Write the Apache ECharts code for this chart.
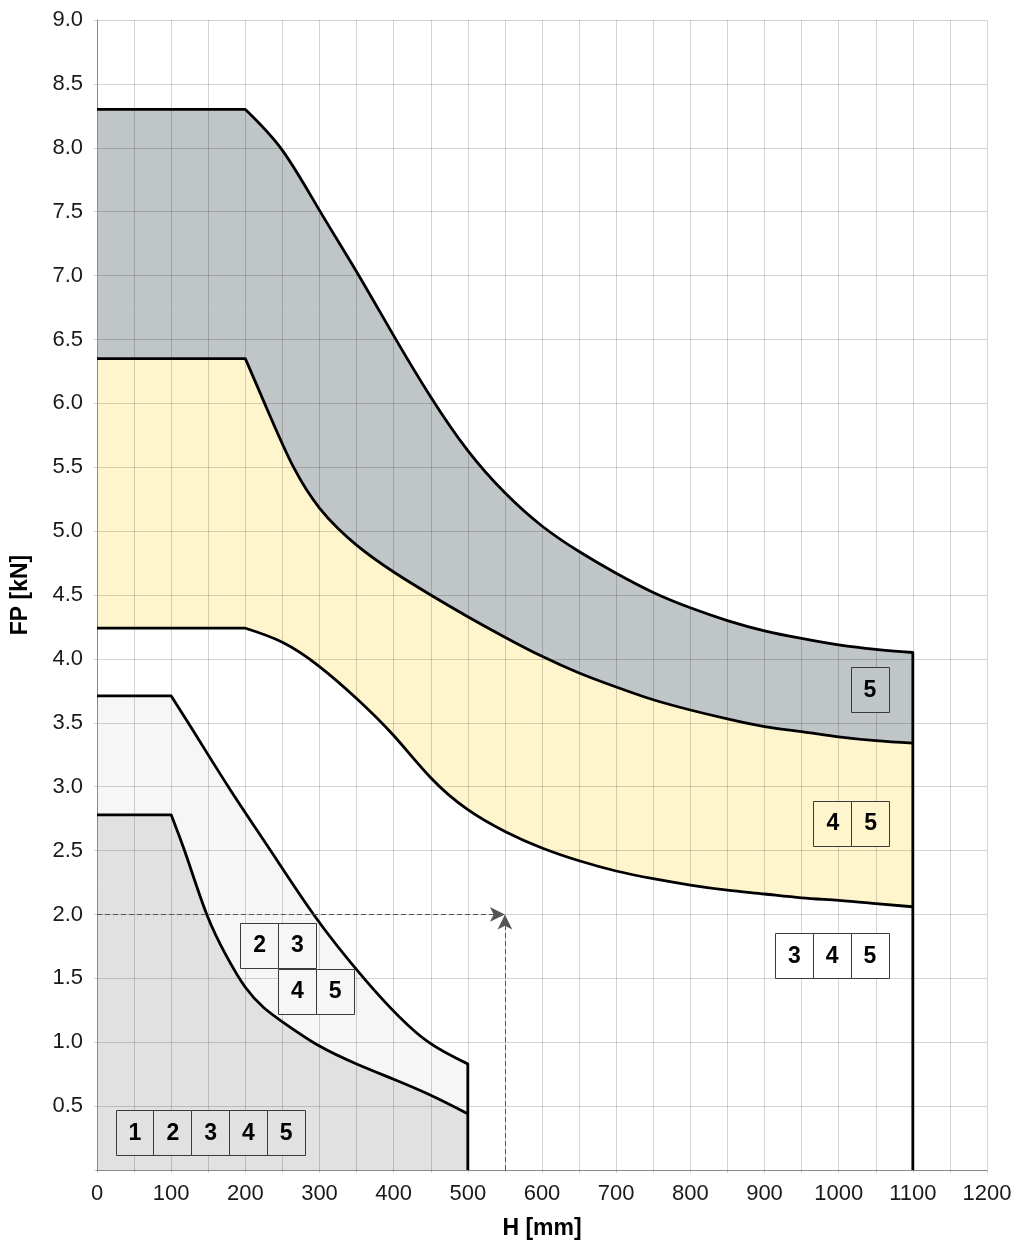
<!DOCTYPE html>
<html>
<head>
<meta charset="utf-8">
<script src="https://cdn.jsdelivr.net/npm/echarts@6/dist/echarts.min.js"></script>
<style>
html,body{margin:0;padding:0;background:#ffffff;}
#chart{width:1025px;height:1243px;}
</style>
</head>
<body>
<div id="chart"></div>
<script>
// ---------- data ----------
const xTickLabels = [0,100,200,300,400,500,600,700,800,900,1000,1100,1200];
const yTickLabels = [0.5,1.0,1.5,2.0,2.5,3.0,3.5,4.0,4.5,5.0,5.5,6.0,6.5,7.0,7.5,8.0,8.5,9.0];

// upper edge of grey band
const curveGreyTop = [[0,8.3],[200,8.3],[250,7.98],[300,7.51],[350,7.03],[400,6.53],[450,6.05],[500,5.63],[550,5.3],[600,5.04],[650,4.84],[700,4.67],[750,4.52],[800,4.4],[850,4.3],[900,4.22],[950,4.16],[1000,4.11],[1050,4.075],[1100,4.05]];
// boundary grey / yellow
const curveYellowTop = [[0,6.35],[200,6.35],[226,6.0],[265,5.5],[300,5.18],[325,5.02],[350,4.89],[400,4.68],[450,4.5],[500,4.33],[550,4.17],[600,4.02],[650,3.89],[700,3.78],[750,3.68],[800,3.6],[850,3.53],[900,3.47],[950,3.43],[1000,3.39],[1050,3.36],[1100,3.34]];
// lower edge of yellow band
const curveYellowBottom = [[0,4.24],[200,4.24],[250,4.13],[300,3.94],[350,3.69],[400,3.4],[450,3.07],[500,2.82],[550,2.65],[600,2.52],[650,2.42],[700,2.34],[750,2.28],[800,2.23],[850,2.19],[900,2.16],[950,2.13],[1000,2.11],[1050,2.085],[1100,2.06]];
// upper edge of light band (0-500)
const curveLightTop = [[0,3.71],[100,3.71],[124,3.49],[177,3.0],[234,2.5],[292,2.0],[360,1.5],[447,1.0],[500,0.83]];
// upper edge of darker lower band (0-500)
const curveDarkTop = [[0,2.78],[100,2.78],[118,2.5],[148,2.0],[175,1.67],[200,1.43],[250,1.16],[300,0.97],[350,0.83],[400,0.71],[450,0.585],[500,0.44]];

// reading example (dashed guide)
const guideH = 550;
const guideFP = 2.0;

// labelled boxes: cell texts per group
const boxTexts = [
  ['1','2','3','4','5'],
  ['2','3'],
  ['4','5'],
  ['5'],
  ['4','5'],
  ['3','4','5']
];
// ---------- layout / styling (not data) ----------
const boxLayout = [
  {left: 25,   y: 0.29,  fill: '#e1e1e1'},
  {left: 193,  y: 1.76,  fill: '#f6f6f6'},
  {left: 244,  y: 1.40,  fill: '#f6f6f6'},
  {left: 1016, y: 3.76,  fill: '#c0c5c8'},
  {left: 966,  y: 2.715, fill: '#fff5cc'},
  {left: 914,  y: 1.676, fill: '#ffffff'}
];
const cellW = 51, cellH = 0.352;

const bands = [
  {curve: curveGreyTop,      fill: '#c0c5c8', dropEnd: true},
  {curve: curveYellowTop,    fill: '#fff5cc', dropEnd: false},
  {curve: curveYellowBottom, fill: '#ffffff', dropEnd: false},
  {curve: curveLightTop,     fill: '#f6f6f6', dropEnd: true},
  {curve: curveDarkTop,      fill: '#e1e1e1', dropEnd: false}
];

const boxData = [];
boxTexts.forEach((cells, g) => {
  cells.forEach((t, i) => {
    boxData.push([boxLayout[g].left + i * cellW, boxLayout[g].y, t, g]);
  });
});

const FONT = "'Liberation Sans', Arial, Helvetica, sans-serif";
const chart = echarts.init(document.getElementById('chart'), null, {renderer: 'canvas'});

// natural cubic spline (C2) through the read points, as Bezier segments
function splineSegments(pts) {
  const n = pts.length;
  if (n < 3) return pts.slice(1).map(p => ({c1: null, c2: null, p: p}));
  const x = pts.map(p => p[0]), y = pts.map(p => p[1]);
  const h = [];
  for (let i = 0; i < n - 1; i++) h.push(x[i+1] - x[i]);
  const M = new Array(n).fill(0);
  const m = n - 2;
  const a = [], b = [], c = [], r = [];
  for (let i = 1; i <= m; i++) {
    a.push(h[i-1]); b.push(2 * (h[i-1] + h[i])); c.push(h[i]);
    r.push(6 * ((y[i+1] - y[i]) / h[i] - (y[i] - y[i-1]) / h[i-1]));
  }
  for (let i = 1; i < m; i++) {
    const w = a[i] / b[i-1];
    b[i] -= w * c[i-1];
    r[i] -= w * r[i-1];
  }
  const sol = new Array(m);
  sol[m-1] = r[m-1] / b[m-1];
  for (let i = m - 2; i >= 0; i--) sol[i] = (r[i] - c[i] * sol[i+1]) / b[i];
  for (let i = 1; i <= m; i++) M[i] = sol[i-1];
  const segs = [];
  for (let i = 0; i < n - 1; i++) {
    const s = (y[i+1] - y[i]) / h[i];
    const mL = s - h[i] * (2 * M[i] + M[i+1]) / 6;
    const mR = s + h[i] * (M[i] + 2 * M[i+1]) / 6;
    segs.push({c1: [x[i] + h[i] / 3, y[i] + mL * h[i] / 3], c2: [x[i+1] - h[i] / 3, y[i+1] - mR * h[i] / 3], p: [x[i+1], y[i+1]]});
  }
  return segs;
}

// path: flat part (straight) then smooth curve from the corner
function curvePath(api, curve) {
  const f = p => { const q = api.coord(p); return q[0].toFixed(2) + ' ' + q[1].toFixed(2); };
  let d = 'M ' + f(curve[0]) + ' L ' + f(curve[1]);
  splineSegments(curve.slice(1)).forEach(s => {
    if (s.c1) d += ' C ' + f(s.c1) + ' ' + f(s.c2) + ' ' + f(s.p);
    else d += ' L ' + f(s.p);
  });
  return d;
}

const series = [];
// filled bands (painted bottom-up, each down to FP = 0)
series.push({
  type: 'custom', z: 1, silent: true, animation: false, clip: true,
  data: bands.map((b, i) => [i]),
  renderItem: function (params, api) {
    const b = bands[params.dataIndex];
    const c = b.curve;
    const f = p => { const q = api.coord(p); return q[0].toFixed(2) + ' ' + q[1].toFixed(2); };
    const d = curvePath(api, c) + ' L ' + f([c[c.length-1][0], 0]) + ' L ' + f([c[0][0], 0]) + ' Z';
    return {type: 'path', shape: {pathData: d}, style: {fill: b.fill, stroke: null}};
  }
});
// black outlines
series.push({
  type: 'custom', z: 3, silent: true, animation: false, clip: false,
  data: bands.map((b, i) => [i]),
  renderItem: function (params, api) {
    const b = bands[params.dataIndex];
    const c = b.curve;
    let d = curvePath(api, c);
    if (b.dropEnd) {
      const q = api.coord([c[c.length-1][0], 0]);
      d += ' L ' + q[0].toFixed(2) + ' ' + q[1].toFixed(2);
    }
    return {type: 'path', shape: {pathData: d},
      style: {fill: null, stroke: '#000000', lineWidth: 2.8, lineJoin: 'round', lineCap: 'butt'}};
  }
});

// dashed guide arrows
series.push({
  type: 'line', data: [], symbol: 'none', silent: true, animation: false, z: 3,
  markLine: {
    silent: true, animation: false,
    symbol: ['none', 'arrow'], symbolSize: [11, 15],
    label: {show: false},
    lineStyle: {type: [5, 3], color: '#555555', width: 1},
    emphasis: {disabled: true},
    data: [
      [{coord: [0, guideFP]}, {coord: [guideH, guideFP]}],
      [{coord: [guideH, 0]}, {coord: [guideH, guideFP]}]
    ]
  }
});

// boxes
series.push({
  type: 'custom', z: 5, silent: true, animation: false,
  data: boxData,
  renderItem: function (params, api) {
    const x = api.value(0), y = api.value(1);
    const g = api.value(3);
    const p = api.coord([x, y]);
    const s = api.size([cellW, cellH]);
    const item = boxData[params.dataIndex];
    return {
      type: 'group',
      children: [
        {type: 'rect', shape: {x: Math.round(p[0]) + 0.5, y: Math.round(p[1] - s[1] / 2) + 0.5, width: Math.round(s[0]), height: Math.round(s[1])},
         style: {fill: boxLayout[g].fill, stroke: '#3a3a3a', lineWidth: 1}},
        {type: 'text', style: {text: item[2], x: p[0] + s[0] / 2 + 0.5, y: p[1] + 1, align: 'center', verticalAlign: 'middle',
          font: 'bold 23px ' + FONT, fill: '#000000'}}
      ]
    };
  }
});

const gridColor = 'rgba(0,0,0,0.17)';

chart.setOption({
  animation: false,
  backgroundColor: '#ffffff',
  grid: {left: 97, right: 38, top: 20, bottom: 73, containLabel: false, outerBoundsMode: 'none'},
  xAxis: {
    type: 'value', min: 0, max: 1200, interval: 50, z: 2,
    name: 'H [mm]', nameLocation: 'middle', nameGap: 47,
    nameTextStyle: {fontFamily: FONT, fontSize: 23, fontWeight: 'bold', color: '#000'},
    axisLine: {show: true, lineStyle: {color: '#8a8a8a', width: 1}},
    axisTick: {show: true, length: 3, lineStyle: {color: gridColor}},
    axisLabel: {
      fontFamily: FONT, fontSize: 22, color: '#1a1a1a', margin: 13,
      formatter: v => (xTickLabels.indexOf(v) >= 0 ? String(v) : '')
    },
    splitLine: {show: true, lineStyle: {color: gridColor, width: 1}}
  },
  yAxis: {
    type: 'value', min: 0, max: 9, interval: 0.5, z: 2,
    name: 'FP [kN]', nameLocation: 'middle', nameGap: 65, nameRotate: 90,
    nameTextStyle: {fontFamily: FONT, fontSize: 23, fontWeight: 'bold', color: '#000'},
    axisLine: {show: true, lineStyle: {color: '#8a8a8a', width: 1}},
    axisTick: {show: true, length: 3, lineStyle: {color: gridColor}},
    axisLabel: {
      fontFamily: FONT, fontSize: 22, color: '#1a1a1a', margin: 14,
      formatter: v => {
        const t = yTickLabels.find(l => Math.abs(l - v) < 1e-9);
        return t === undefined ? '' : t.toFixed(1);
      }
    },
    splitLine: {show: true, lineStyle: {color: gridColor, width: 1}}
  },
  series: series
});
</script>
</body>
</html>
